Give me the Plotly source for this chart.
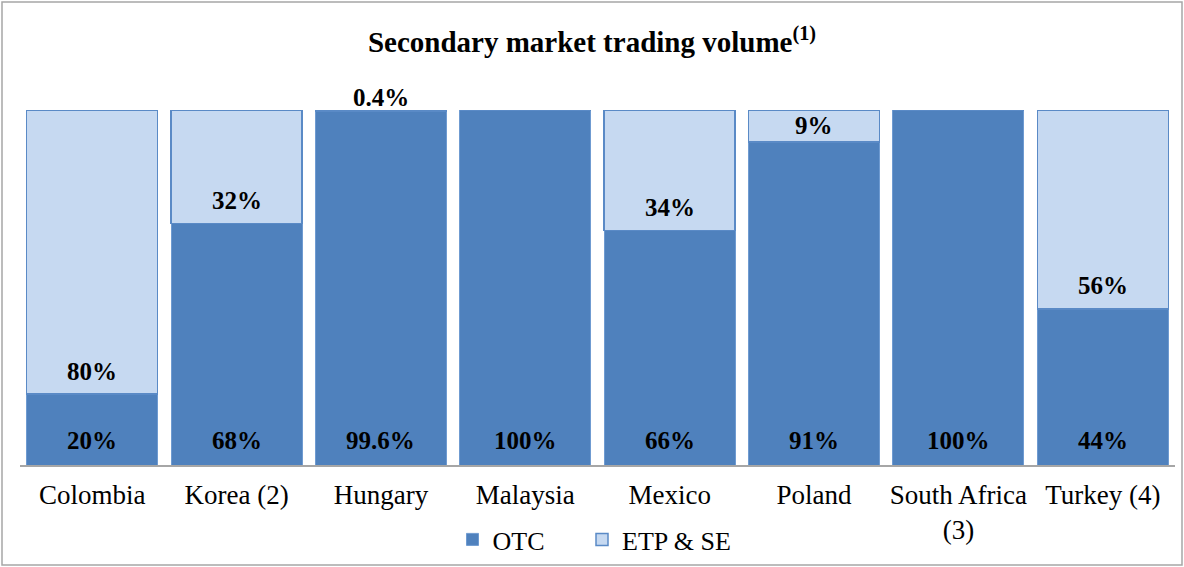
import plotly.graph_objects as go

categories = ["Colombia", "Korea (2)", "Hungary", "Malaysia", "Mexico", "Poland", "South Africa<br>(3)", "Turkey (4)"]
otc = [20, 68, 99.6, 100, 66, 91, 100, 44]
etp = [80, 32, 0.4, 0, 34, 9, 0, 56]
otc_labels = ["20%", "68%", "99.6%", "100%", "66%", "91%", "100%", "44%"]
etp_labels = ["80%", "32%", "0.4%", "", "34%", "9%", "", "56%"]

FONT = "Liberation Serif"
OTC_COLOR = "#4F81BD"
ETP_COLOR = "#C6D9F1"
LABEL_FONT = dict(family=FONT, size=25, color="black", weight="bold")

W, H = 1184, 567
ml, mr, mt, mb = 20, 9, 110, 102
pw, ph = W - ml - mr, H - mt - mb
px_per_unit = ph / 100.0

def px2x(p):
    return (p - ml) / pw

def px2y(p):
    return (H - mb - p) / ph

fig = go.Figure()
fig.add_trace(go.Bar(
    x=categories, y=otc, name="OTC" + "\u00a0" * 5,
    marker=dict(color=OTC_COLOR, line=dict(color="#6F9BD1", width=1)),
    cliponaxis=False, hoverinfo="skip",
))
fig.add_trace(go.Bar(
    x=categories, y=etp, name="ETP & SE",
    marker=dict(color=ETP_COLOR, line=dict(color="#5A8AC6", width=1.5)),
    cliponaxis=False, hoverinfo="skip",
))

annotations = []
for cat, o, e, ol, el in zip(categories, otc, etp, otc_labels, etp_labels):
    annotations.append(dict(x=cat, y=0, text=f"<b>{ol}</b>", showarrow=False,
                            yanchor="middle", yshift=25, font=LABEL_FONT))
    if el:
        seg_px = e * px_per_unit
        shift = min(23, seg_px / 2) if seg_px >= 10 else seg_px + 13
        annotations.append(dict(x=cat, y=o, text=f"<b>{el}</b>", showarrow=False,
                                yanchor="middle", yshift=shift, font=LABEL_FONT))

fig.update_layout(
    width=W, height=H,
    margin=dict(l=ml, r=mr, t=mt, b=mb, autoexpand=False),
    barmode="stack", bargap=0.093,
    paper_bgcolor="white", plot_bgcolor="white",
    font=dict(family=FONT, color="black"),
    title=dict(text="<b>Secondary market trading volume<sup>(1)</sup></b>",
               x=0.5, xanchor="center", y=1 - 42 / H, yanchor="middle", yref="container",
               font=dict(family=FONT, size=29, color="black")),
    showlegend=True,
    legend=dict(orientation="h", x=0.5 - 3 / pw, xanchor="center", y=px2y(516), yanchor="top",
                font=dict(family=FONT, size=26, color="black"), traceorder="normal",
                itemwidth=30, bgcolor="rgba(0,0,0,0)"),
    xaxis=dict(showgrid=False, showline=True, linecolor="#A6A6A6", linewidth=1.5,
               ticks="", tickfont=dict(family=FONT, size=27, color="black"),
               ticklabelstandoff=5, fixedrange=True),
    yaxis=dict(range=[0, 100], visible=False, fixedrange=True),
    annotations=annotations,
    shapes=[dict(type="rect", xref="paper", yref="paper",
                 x0=px2x(2), x1=px2x(1182), y0=px2y(565), y1=px2y(2),
                 line=dict(color="#A6A6A6", width=1.5), fillcolor="rgba(0,0,0,0)", layer="below")],
)

fig.write_html("out.html", config={"displayModeBar": False},
               post_script="document.body.style.margin='0px';document.body.style.overflow='hidden';")
